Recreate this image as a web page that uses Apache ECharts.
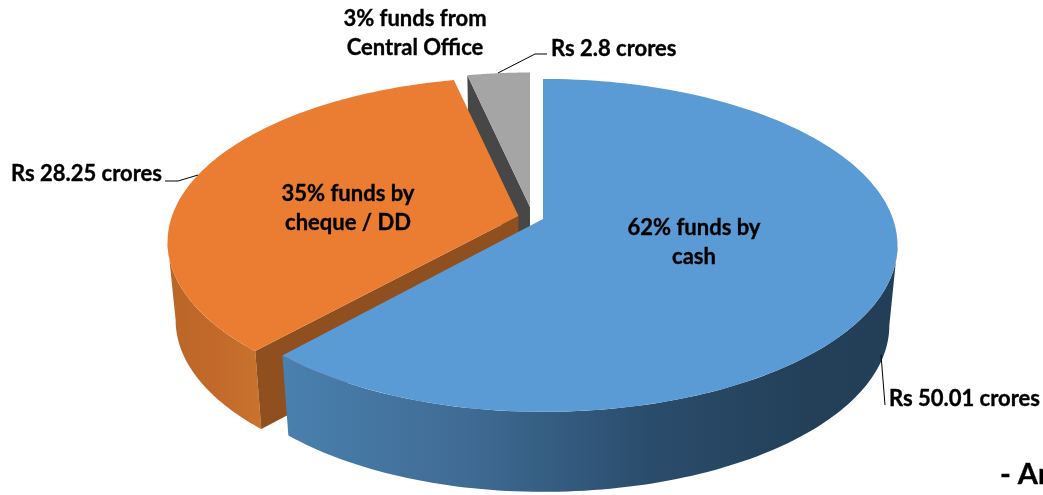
<!DOCTYPE html>
<html><head><meta charset="utf-8">
<style>html,body{margin:0;padding:0;background:#fff;overflow:hidden}#c{width:1043px;height:495px}</style>
<script src="https://cdn.jsdelivr.net/npm/echarts@6/dist/echarts.min.js"></script>
</head><body><div id="c"></div>
<script>
const categories = ['Cash', 'Cheque / DD', 'Central Office'];
const amounts = [50.01, 28.25, 2.8];
const amountLabels = ['Rs 50.01 crores', 'Rs 28.25 crores', 'Rs 2.8 crores'];
const shareLabels = ['62% funds by\ncash', '35% funds by\ncheque / DD', '3% funds from\nCentral Office'];
const clippedNote = '- Ar';

const topColors = ['#5B9BD5', '#EB7D32', '#A5A5A5'];
const faceColors = [null, '#8F4F1E', '#474747'];
const apexes = [[543, 219], [518.5, 216], [530, 207]];
const sliceScale = [1, 0.99, 0.96];
const leftScale = [0.98, 1, 1];
const wallDepth = [80, 78, 79];
const wallStops = [
  [[0, '#4A80AE'], [0.3, '#3F6B94'], [0.6, '#2A4C6C'], [0.85, '#234058'], [1, '#223F57']],
  [[0, '#B96627'], [0.5, '#C2692A'], [1, '#C9732E']],
  null
];
const RX = 350, RY = 162.3, K = 0.1585, SHRINK = 0.977, FONT = 'Lato';

const total = amounts.reduce((a, b) => a + b, 0);
const starts = [];
amounts.reduce((acc, v, i) => { starts[i] = acc; return acc + v; }, 0);
const frontFrom = Math.acos(-K), frontTo = Math.PI * 2 - frontFrom;

function rimPoint(i, theta) {
  const s = sliceScale[i] / (1 + K * Math.cos(theta));
  const sn = Math.sin(theta);
  return [apexes[i][0] + RX * sn * s * (sn < 0 ? leftScale[i] : 1), apexes[i][1] - RY * Math.cos(theta) * s];
}
function lower(i, p) {
  const a = apexes[i];
  return [a[0] + (p[0] - a[0]) * SHRINK, p[1] + wallDepth[i]];
}
function arc(i, a, b, n) {
  const pts = [];
  for (let j = 0; j <= n; j++) pts.push(rimPoint(i, a + (b - a) * j / n));
  return pts;
}
function renderSlice(params) {
  const i = categories.length - 1 - params.dataIndex;
  const t0 = starts[i] / total * Math.PI * 2;
  const t1 = (starts[i] + amounts[i]) / total * Math.PI * 2;
  const children = [];
  const wa = Math.max(t0, frontFrom), wb = Math.min(t1, frontTo);
  if (wallStops[i] && wb > wa) {
    const rim = arc(i, wa, wb, 100);
    children.push({
      type: 'polygon', shape: { points: rim.concat(rim.map(p => lower(i, p)).reverse()) },
      style: { fill: new echarts.graphic.LinearGradient(0, 0, 1, 0,
        wallStops[i].map(s => ({ offset: s[0], color: s[1] }))) }
    });
  }
  if (faceColors[i]) {
    const p = rimPoint(i, t0), a = apexes[i];
    children.push({
      type: 'polygon',
      shape: { points: [a, p, lower(i, p), [a[0], a[1] + wallDepth[i]]] },
      style: { fill: faceColors[i] }
    });
  }
  children.push({
    type: 'polygon', shape: { points: [apexes[i]].concat(arc(i, t0, t1, 140)) },
    style: { fill: topColors[i] }
  });
  return { type: 'group', children };
}

function label(text, x, y, align, size) {
  return { type: 'text', x, y, z: 10, style: {
    text, x: 0, y: 0, align: align, verticalAlign: 'middle',
    font: 'bold ' + (size || 22) + 'px ' + FONT, lineHeight: 29, fill: '#000',
    stroke: '#000', lineWidth: 0.35 } };
}
function leader(points) {
  return { type: 'polyline', z: 9, shape: { points },
    style: { stroke: '#000', lineWidth: 1, fill: null } };
}

const chart = echarts.init(document.getElementById('c'), null, { renderer: 'canvas' });
chart.setOption({
  animation: false,
  backgroundColor: '#fff',
  series: [{
    type: 'custom',
    coordinateSystem: 'none',
    silent: true,
    data: categories.slice().reverse(),
    renderItem: renderSlice
  }],
  graphic: { elements: [
    leader([[881, 355], [885, 405]]),
    leader([[165, 181], [178, 181], [198, 175]]),
    leader([[498, 73], [535, 54], [547, 54]]),
    label(amountLabels[0], 889, 399, 'left'),
    label(amountLabels[1], 11, 174, 'left'),
    label(amountLabels[2], 551, 49, 'left'),
    label(shareLabels[0], 694, 242, 'center'),
    label(shareLabels[1], 348, 208, 'center'),
    label(shareLabels[2], 415, 33, 'center'),
    label(clippedNote, 1000, 475, 'left', 29)
  ] }
});
</script></body></html>
